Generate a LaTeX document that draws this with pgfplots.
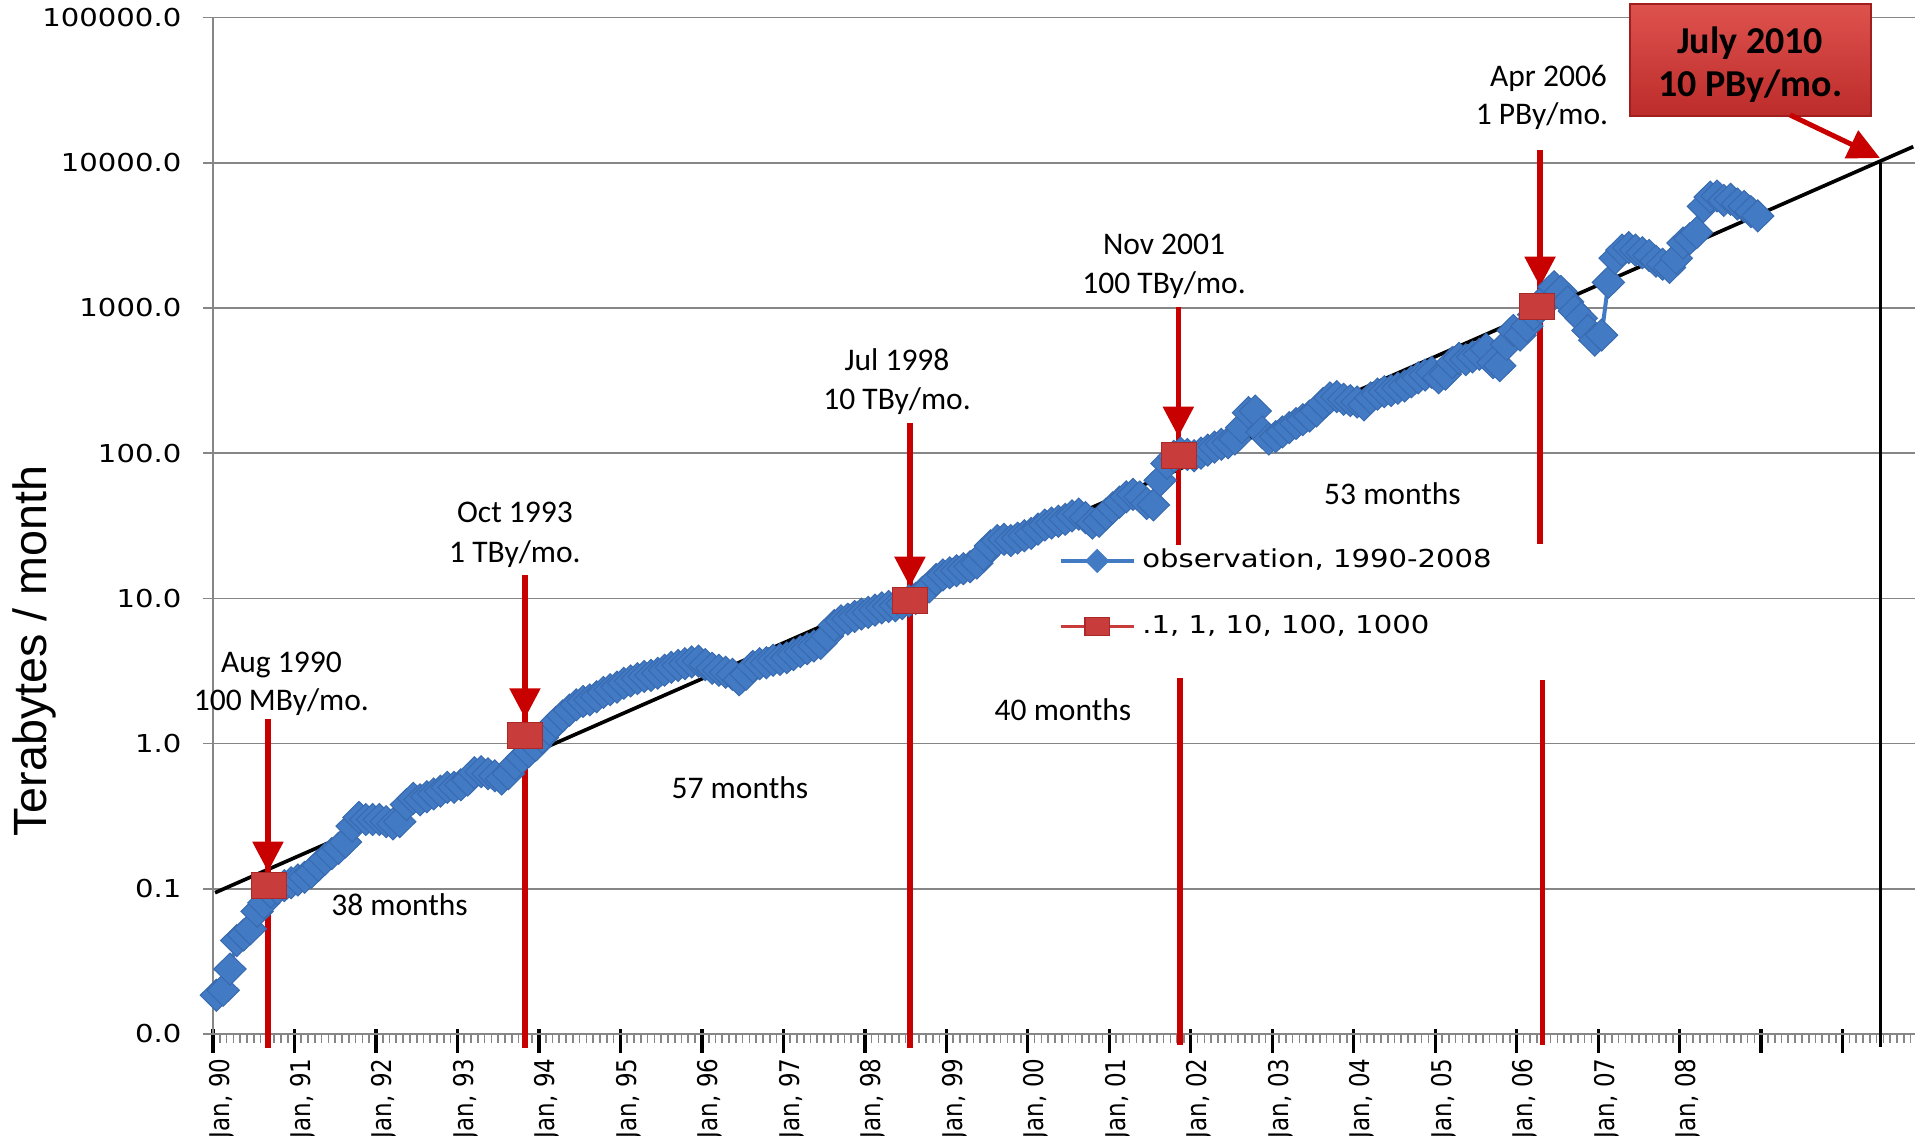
\documentclass[border=0pt]{standalone}
\usepackage{fontspec}
\usepackage{pgfplots}
\usepackage{pgfplotstable}
\pgfplotsset{compat=1.18}
\usetikzlibrary{arrows.meta}
\setmainfont{Carlito}
\newfontfamily\tickfont[FakeStretch=1.18]{DejaVu Sans}
\newfontfamily\xtickfont{DejaVu Sans}
\newfontfamily\arialfont{Liberation Sans}
\definecolor{obsblue}{RGB}{66,122,196}
\definecolor{obsdark}{RGB}{56,106,176}
\definecolor{sqred}{RGB}{200,60,60}
\definecolor{sqdark}{RGB}{170,40,40}
\definecolor{arrowred}{RGB}{200,0,0}
\definecolor{gridgray}{RGB}{134,134,134}
\definecolor{boxtop}{RGB}{222,82,78}
\definecolor{boxbot}{RGB}{188,44,42}
\definecolor{boxedge}{RGB}{160,30,30}

\pgfplotstableread{
x y
0.5 0.0185
1.5 0.02
2.5 0.028
3.5 0.044
4.5 0.048
5.5 0.053
6.5 0.07
7.5 0.08
8.5 0.095
9.5 0.1
10.5 0.105
11.5 0.11
12.5 0.115
13.5 0.12
14.5 0.13
15.5 0.145
16.5 0.16
17.5 0.175
18.5 0.19
19.5 0.21
20.5 0.27
21.5 0.31
22.5 0.3
23.5 0.3
24.5 0.3
25.5 0.29
26.5 0.28
27.5 0.29
28.5 0.38
29.5 0.42
30.5 0.41
31.5 0.43
32.5 0.45
33.5 0.47
34.5 0.5
35.5 0.5
36.5 0.52
37.5 0.56
38.5 0.63
39.5 0.64
40.5 0.62
41.5 0.6
42.5 0.57
43.5 0.62
44.5 0.72
45.5 0.8
46.5 0.88
47.5 0.97
48.5 1.1
49.5 1.25
50.5 1.4
51.5 1.55
52.5 1.7
53.5 1.85
54.5 1.95
55.5 2.0
56.5 2.1
57.5 2.25
58.5 2.35
59.5 2.45
60.5 2.6
61.5 2.7
62.5 2.8
63.5 2.9
64.5 2.95
65.5 3.05
66.5 3.2
67.5 3.35
68.5 3.45
69.5 3.55
70.5 3.65
71.5 3.7
72.5 3.5
73.5 3.3
74.5 3.2
75.5 3.1
76.5 3.0
77.5 2.75
78.5 3.0
79.5 3.4
80.5 3.55
81.5 3.6
82.5 3.75
83.5 3.8
84.5 3.9
85.5 4.1
86.5 4.3
87.5 4.5
88.5 4.7
89.5 4.9
90.5 5.5
91.5 6.5
92.5 7.0
93.5 7.2
94.5 7.5
95.5 7.8
96.5 8.0
97.5 8.3
98.5 8.6
99.5 8.8
100.5 8.9
101.5 9.2
102.5 9.6
103.5 10.0
104.5 11.0
105.5 12.0
106.5 13.5
107.5 14.5
108.5 15
109.5 15.5
110.5 16
111.5 16.5
112.5 17.5
113.5 20
114.5 23
115.5 25
116.5 25.5
117.5 25
118.5 26
119.5 27
120.5 28
121.5 30
122.5 32
123.5 33
124.5 34
125.5 35
126.5 37
127.5 38
128.5 36
129.5 33
130.5 34
131.5 38
132.5 42
133.5 46
134.5 50
135.5 52
136.5 50
137.5 45
138.5 44
139.5 65
140.5 85
141.5 95
142.5 100
143.5 98
144.5 96
145.5 100
146.5 105
147.5 110
148.5 115
149.5 118
150.5 125
151.5 150
152.5 190
153.5 195
154.5 140
155.5 125
156.5 130
157.5 140
158.5 150
159.5 160
160.5 170
161.5 180
162.5 195
163.5 220
164.5 240
165.5 245
166.5 235
167.5 230
168.5 225
169.5 215
170.5 240
171.5 255
172.5 265
173.5 270
174.5 280
175.5 290
176.5 310
177.5 330
178.5 345
179.5 360
180.5 330
181.5 350
182.5 420
183.5 450
184.5 440
185.5 460
186.5 480
187.5 520
188.5 420
189.5 400
190.5 560
191.5 700
192.5 650
193.5 750
194.5 900
195.5 1000
196.5 1200
197.5 1400
198.5 1300
199.5 1100
200.5 950
201.5 850
202.5 700
203.5 600
204.5 650
205.5 1500
206.5 2200
207.5 2500
208.5 2600
209.5 2500
210.5 2400
211.5 2300
212.5 2100
213.5 2000
214.5 1900
215.5 2200
216.5 2800
217.5 3000
218.5 3300
219.5 5000
220.5 5800
221.5 5900
222.5 5500
223.5 5600
224.5 5200
225.5 5000
226.5 4600
227.5 4300
}\obsdata

\begin{document}
\begin{tikzpicture}
\begin{axis}[
  name=main, at={(0,0)}, anchor=south west,
  scale only axis, width=510.6pt, height=304.95pt,
  xmin=0, xmax=250.66,
  ymode=log, ymin=0.01, ymax=100000,
  clip=false,
  axis x line*=bottom, axis y line*=left,
  axis line style={draw=gridgray, line width=0.8pt},
  ytick={0.01,0.1,1,10,100,1000,10000,100000},
  yticklabels={0.0,0.1,1.0,10.0,100.0,1000.0,10000.0,100000.0},
  yminorticks=false,
  ymajorgrids, grid style={draw=gridgray, line width=0.5pt},
  xtick={0,12,...,240},
  xticklabels={{Jan, 90},{Jan, 91},{Jan, 92},{Jan, 93},{Jan, 94},{Jan, 95},{Jan, 96},{Jan, 97},{Jan, 98},{Jan, 99},{Jan, 00},{Jan, 01},{Jan, 02},{Jan, 03},{Jan, 04},{Jan, 05},{Jan, 06},{Jan, 07},{Jan, 08},{},{}},
  minor xtick={1,2,...,250},
  tick align=outside,
  major tick length=7.2pt,
  minor tick length=2.7pt,
  every major x tick/.append style={black, line width=1pt, yshift=1.5pt},
  every minor x tick/.append style={gridgray, line width=0.5pt},
  every major y tick/.append style={gridgray, line width=0.5pt, xshift=4.2pt},
  yticklabel style={font=\fontsize{7.4}{8}\tickfont, inner sep=0pt, xshift=-2.1pt},
  xticklabel style={font=\fontsize{6.9}{7}\xtickfont, xshift=2.6pt, rotate=90, yscale=1.18, anchor=east, inner sep=0pt},
  legend style={draw=none, fill=none, at={(0.4965,0.4333)}, anchor=west,
    font=\fontsize{7.4}{8}\tickfont, row sep=12.6pt, column sep=2pt,
    inner sep=0pt, nodes={inner sep=0pt}},
  legend cell align=left,
]
\addplot[color=obsblue, line width=1.2pt, mark=diamond*, mark size=4.8pt,
  mark options={xscale=1.35, fill=obsblue, draw=obsdark, line width=0.3pt},
  legend image code/.code={
    \draw[obsblue, line width=1.1pt] (0pt,0pt) -- (22pt,0pt);
    \draw[mark=diamond*, mark size=2.8pt, mark options={xscale=1.333, fill=obsblue, draw=obsblue}] plot coordinates {(11pt,0pt)};
  }] table {\obsdata};
\addlegendentry{observation, 1990-2008}
\addplot[only marks, mark=square*, mark size=3.9pt,
  mark options={xscale=1.346, fill=sqred, draw=sqdark, line width=0.3pt},
  legend image code/.code={
    \draw[sqred, line width=1.1pt] (0pt,0pt) -- (22pt,0pt);
    \draw[mark=square*, mark size=2.7pt, mark options={xscale=1.35, fill=sqred, draw=sqdark}] plot coordinates {(11pt,0pt)};
  }] coordinates {(8.2,0.105) (45.9,1.14) (102.6,9.6) (142.3,97) (195.0,1020)};
\addlegendentry{.1, 1, 10, 100, 1000}
\addplot[black, line width=1.1pt, forget plot] coordinates {(0.3,0.094) (250.4,12900)};

% red vertical markers
\draw[arrowred, line width=1.6pt] (rel axis cs:0.0323,0.3099) -- (rel axis cs:0.0323,-0.0138);
\draw[arrowred, line width=1.6pt, -{Triangle[width=9pt,length=9pt]}] (rel axis cs:0.0323,0.3099) -- (rel axis cs:0.0323,0.1597);
\draw[arrowred, line width=1.6pt] (rel axis cs:0.1833,0.4515) -- (rel axis cs:0.1833,-0.0138);
\draw[arrowred, line width=1.6pt, -{Triangle[width=9pt,length=9pt]}] (rel axis cs:0.1833,0.4515) -- (rel axis cs:0.1833,0.3106);
\draw[arrowred, line width=1.6pt] (rel axis cs:0.4095,0.6008) -- (rel axis cs:0.4095,-0.0138);
\draw[arrowred, line width=1.6pt, -{Triangle[width=9pt,length=9pt]}] (rel axis cs:0.4095,0.6008) -- (rel axis cs:0.4095,0.4400);
\draw[arrowred, line width=1.6pt] (rel axis cs:0.5672,0.7152) -- (rel axis cs:0.5672,0.4811);
\draw[arrowred, line width=1.6pt, -{Triangle[width=9pt,length=9pt]}] (rel axis cs:0.5672,0.7152) -- (rel axis cs:0.5672,0.5876);
\draw[arrowred, line width=1.6pt] (rel axis cs:0.5682,0.3502) -- (rel axis cs:0.5682,-0.0108);
\draw[arrowred, line width=1.6pt] (rel axis cs:0.7797,0.8697) -- (rel axis cs:0.7797,0.4816);
\draw[arrowred, line width=1.6pt, -{Triangle[width=9pt,length=9pt]}] (rel axis cs:0.7797,0.8697) -- (rel axis cs:0.7797,0.7352);
\draw[arrowred, line width=1.6pt] (rel axis cs:0.7811,0.3487) -- (rel axis cs:0.7811,-0.0105);
% July 2010 marker
\draw[black, line width=1pt] (rel axis cs:0.9797,0.8569) -- (rel axis cs:0.9797,-0.0128);
\shadedraw[top color=boxtop, bottom color=boxbot, draw=boxedge, line width=0.5pt]
  (rel axis cs:0.8326,1.0133) rectangle (rel axis cs:0.9740,0.9031);
\node[font=\bfseries\fontsize{11.4}{12.8}\selectfont, align=center] at (rel axis cs:0.9031,0.9533) {July 2010\\10 PBy/mo.};
\draw[arrowred, line width=1.5pt, -{Triangle[width=9pt,length=9.5pt]}] (rel axis cs:0.9266,0.9041) -- (rel axis cs:0.9794,0.8618);

% annotations
\begin{scope}[every node/.style={font=\fontsize{9.45}{11.5}\selectfont, anchor=base, inner sep=0pt}]
\node at (rel axis cs:0.0402,0.3556) {Aug 1990};
\node at (rel axis cs:0.0402,0.3182) {100 MBy/mo.};
\node at (rel axis cs:0.1774,0.5032) {Oct 1993};
\node at (rel axis cs:0.1774,0.4643) {1 TBy/mo.};
\node at (rel axis cs:0.4019,0.6532) {Jul 1998};
\node at (rel axis cs:0.4019,0.6144) {10 TBy/mo.};
\node at (rel axis cs:0.5588,0.7668) {Nov 2001};
\node at (rel axis cs:0.5588,0.7280) {100 TBy/mo.};
\node at (rel axis cs:0.7847,0.9326) {Apr 2006};
\node at (rel axis cs:0.7808,0.8952) {1 PBy/mo.};
\node at (rel axis cs:0.1096,0.1161) {38 months};
\node at (rel axis cs:0.3096,0.2312) {57 months};
\node at (rel axis cs:0.4994,0.3089) {40 months};
\node at (rel axis cs:0.6930,0.5214) {53 months};
\end{scope}
\node[rotate=90, font=\fontsize{14}{15}\arialfont] at (rel axis cs:-0.1049,0.3768) {Terabytes / month};
\end{axis}
\pgfresetboundingbox
\useasboundingbox (-63.9pt,-30.3pt) rectangle (514.2pt,310.2pt);
\end{tikzpicture}
\end{document}
